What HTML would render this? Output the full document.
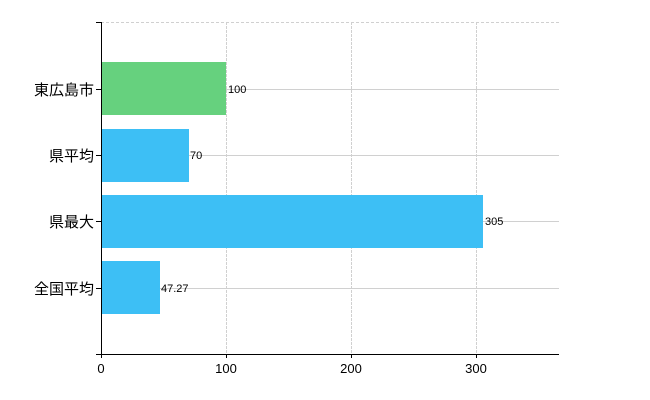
<!DOCTYPE html>
<html><head><meta charset="utf-8"><style>body{margin:0;background:#fff}svg{display:block}</style></head><body>
<svg width="650" height="400" xmlns="http://www.w3.org/2000/svg" font-family="Liberation Sans, Noto Sans CJK JP, sans-serif">
<g stroke="#d0d0d0" stroke-width="1" fill="none">
<line x1="101" y1="22.5" x2="559" y2="22.5" stroke-dasharray="3,2"/>
<line x1="226.5" y1="22" x2="226.5" y2="354" stroke-dasharray="3,1"/>
<line x1="351.5" y1="22" x2="351.5" y2="354" stroke-dasharray="3,1"/>
<line x1="476.5" y1="22" x2="476.5" y2="354" stroke-dasharray="3,1"/>
<line x1="101" y1="89.5" x2="559" y2="89.5"/>
<line x1="101" y1="155.5" x2="559" y2="155.5"/>
<line x1="101" y1="221.5" x2="559" y2="221.5"/>
<line x1="101" y1="288.5" x2="559" y2="288.5"/>
</g>
<rect x="101" y="62" width="125" height="53" fill="#66d17e"/>
<rect x="101" y="129" width="88" height="53" fill="#3dbff5"/>
<rect x="101" y="195" width="382" height="53" fill="#3dbff5"/>
<rect x="101" y="261" width="59" height="53" fill="#3dbff5"/>
<g stroke="#000" stroke-width="1">
<line x1="101.5" y1="22" x2="101.5" y2="354"/>
<line x1="96" y1="354.5" x2="559" y2="354.5"/>
<line x1="96" y1="22.5" x2="101" y2="22.5"/>
<line x1="96" y1="89.5" x2="101" y2="89.5"/>
<line x1="96" y1="155.5" x2="101" y2="155.5"/>
<line x1="96" y1="221.5" x2="101" y2="221.5"/>
<line x1="96" y1="288.5" x2="101" y2="288.5"/>
<line x1="101.5" y1="354" x2="101.5" y2="358"/>
<line x1="226.5" y1="354" x2="226.5" y2="358"/>
<line x1="351.5" y1="354" x2="351.5" y2="358"/>
<line x1="476.5" y1="354" x2="476.5" y2="358"/>
</g>
<g font-size="15" text-anchor="end" fill="#000">
<text x="94" y="95">東広島市</text>
<text x="94" y="161">県平均</text>
<text x="94" y="227">県最大</text>
<text x="94" y="294">全国平均</text>
</g>
<g font-size="13" text-anchor="middle" fill="#000">
<text x="101" y="373">0</text>
<text x="226" y="373">100</text>
<text x="351" y="373">200</text>
<text x="476" y="373">300</text>
</g>
<g font-size="11" fill="#000">
<text x="228" y="93">100</text>
<text x="190" y="159">70</text>
<text x="485" y="225">305</text>
<text x="161" y="292">47.27</text>
</g>
</svg>
</body></html>
